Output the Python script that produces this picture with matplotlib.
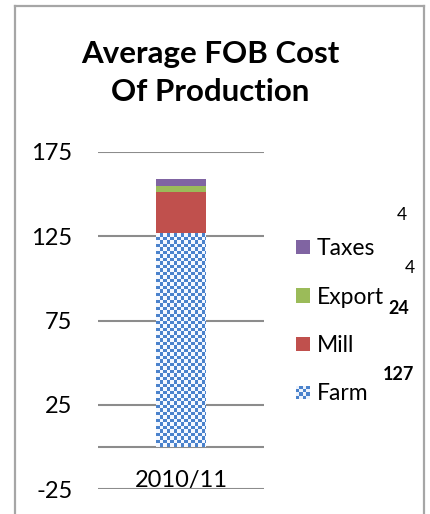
import numpy as np
import matplotlib
matplotlib.use("Agg")
import matplotlib.pyplot as plt
from matplotlib.patches import Rectangle, Patch
from matplotlib.lines import Line2D
from matplotlib.legend_handler import HandlerBase

# ---- data ----
categories = ["2010/11"]
series_names = ["Farm", "Mill", "Export", "Taxes"]
farm = [127]
mill = [24]
export = [4]
taxes = [4]
yticks = [-25, 25, 75, 125, 175]
title = "Average FOB Cost\nOf Production"

colors = {"Farm": "#4f81bd", "Mill": "#c0504d", "Export": "#9bbb59", "Taxes": "#8064a2"}
checker_blue = "#4a82cc"

plt.rcParams['font.family'] = ['Lato', 'DejaVu Sans']

W, H = 430, 514
fig = plt.figure(figsize=(W / 100, H / 100), dpi=100)

def fx(px):
    return px / W

def fy(py):
    return 1 - py / H

# chart border
bc = "#a6a6a6"
fig.add_artist(Line2D([fx(15), fx(15)], [fy(6), 0], color=bc, lw=1.6, transform=fig.transFigure))
fig.add_artist(Line2D([fx(15), fx(424)], [fy(6), fy(6)], color=bc, lw=1.6, transform=fig.transFigure))
fig.add_artist(Line2D([fx(424), fx(424)], [fy(6), 0], color=bc, lw=1.6, transform=fig.transFigure))

# axes
ax_left, ax_right, ax_top, ax_bot = 98, 264, 152, 489
ax = fig.add_axes([fx(ax_left), fy(ax_bot), (ax_right - ax_left) / W, (ax_bot - ax_top) / H])
ax.set_xlim(-0.5, 0.5)
ax.set_ylim(yticks[0], yticks[-1])
for s in ax.spines.values():
    s.set_visible(False)
ax.set_yticks(yticks)
ax.set_yticklabels([str(t) for t in yticks], fontsize=17)
ax.tick_params(axis='y', length=0, pad=18.5)
ax.set_xticks([])
grid_c = "#8c8c8c"
for t in yticks:
    ax.axhline(t, color=grid_c, lw=1.5, zorder=0)
ax.axhline(0, color=grid_c, lw=1.5, zorder=0)

x = np.arange(len(categories))
bw = 0.3
bottom = np.zeros(len(categories))
bars = {}
for name, vals in zip(series_names, [farm, mill, export, taxes]):
    fc = "white" if name == "Farm" else colors[name]
    bars[name] = ax.bar(x, vals, bw, bottom=bottom, color=fc, edgecolor='none', zorder=2)
    bottom = bottom + np.array(vals)

# checkerboard texture for Farm (pixel-resolution pattern)
fig.canvas.draw()
for p in bars["Farm"].patches:
    x0, y0 = p.get_x(), p.get_y()
    x1, y1 = x0 + p.get_width(), y0 + p.get_height()
    (px0, py0), (px1, py1) = ax.transData.transform([(x0, y0), (x1, y1)])
    nx = int(round(abs(px1 - px0)))
    ny = int(round(abs(py1 - py0)))
    iy, ix = np.indices((ny, nx))
    period = 7.0
    bx = (ix % period) < 4
    by = (iy % period) < 4
    chk = bx ^ by
    blue = np.array(matplotlib.colors.to_rgb(checker_blue))
    white = np.array([0.96, 0.975, 1.0])
    img = np.where(chk[..., None], blue, white)
    im = ax.imshow(img, extent=(x0, x1, y0, y1), aspect='auto', interpolation='nearest',
                   zorder=2.5, origin='upper')
    im.set_clip_path(p)
ax.set_xlim(-0.5, 0.5)
ax.set_ylim(yticks[0], yticks[-1])

# category label
for xi, c in zip(x, categories):
    ax.annotate(c, xy=(xi, 0), xycoords='data', xytext=(0, -23), textcoords='offset pixels',
                ha='center', va='top', fontsize=17, annotation_clip=False)

# title
fig.text(fx(210), fy(73), title, ha='center', va='center', fontsize=22.5, fontweight='bold', linespacing=1.42)

# legend
class CheckerHandler(HandlerBase):
    def create_artists(self, legend, orig_handle, xdescent, ydescent, width, height, fontsize, trans):
        n = 4
        s = min(width, height)
        ox = -xdescent
        oy = -ydescent + (height - s) / 2
        arts = [Rectangle((ox, oy), s, s, facecolor="#eef3fb", edgecolor='none', transform=trans)]
        for i in range(n):
            for j in range(n):
                if (i + j) % 2 == 0:
                    arts.append(Rectangle((ox + i * s / n, oy + j * s / n), s / n, s / n,
                                          facecolor=checker_blue, edgecolor='none', transform=trans))
        return arts

handles = [Patch(facecolor=colors["Taxes"]), Patch(facecolor=colors["Export"]),
           Patch(facecolor=colors["Mill"]), Patch(facecolor=colors["Farm"])]
labels = ["Taxes", "Export", "Mill", "Farm"]
leg = fig.legend(handles, labels, loc='upper left', bbox_to_anchor=(fx(296), fy(238)),
                 frameon=False, fontsize=16.5, handlelength=0.6, handleheight=0.6,
                 handletextpad=0.3, labelspacing=1.2, borderpad=0, borderaxespad=0,
                 handler_map={handles[3]: CheckerHandler()})

# data labels (as positioned in the reference)
val_labels = [(taxes[0], 402, 215, 'normal'), (export[0], 410, 268, 'normal'),
              (mill[0], 399, 309, 'bold'), (farm[0], 399, 375, 'bold')]
for v, px, py, wt in val_labels:
    fig.text(fx(px), fy(py), str(v), ha='center', va='center', fontsize=12.5 if wt == 'normal' else 13,
             fontweight=wt)

fig.savefig("out.png", dpi=100)
